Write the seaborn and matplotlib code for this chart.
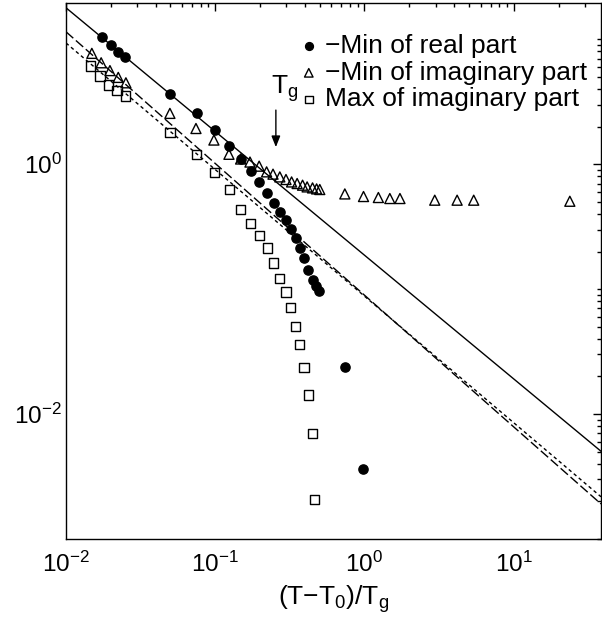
import numpy as np
import matplotlib
matplotlib.use("Agg")
import matplotlib.pyplot as plt
import matplotlib.ticker as mticker
import seaborn as sns

sns.set_theme(style="white")
plt.rcParams["font.family"] = ["Liberation Sans", "DejaVu Sans"]
plt.rcParams["mathtext.fontset"] = "custom"
plt.rcParams["mathtext.rm"] = "Liberation Sans"
plt.rcParams["mathtext.it"] = "Liberation Sans:italic"
plt.rcParams["mathtext.default"] = "regular"

# -Min of real part (filled circles)
real_x = [0.0175, 0.0200, 0.0224, 0.0248, 0.0497, 0.075, 0.0995, 0.124, 0.148,
          0.173, 0.197, 0.223, 0.247, 0.271, 0.298, 0.321, 0.347, 0.369, 0.394,
          0.420, 0.449, 0.472, 0.495, 0.739, 0.980]
real_y = [10.5, 8.98, 7.94, 7.16, 3.64, 2.55, 1.87, 1.40, 1.10,
          0.875, 0.721, 0.593, 0.493, 0.415, 0.356, 0.301, 0.257, 0.215, 0.178,
          0.143, 0.118, 0.105, 0.096, 0.0238, 0.0036]

# -Min of imaginary part (open triangles)
imin_x = [0.0149, 0.0172, 0.0197, 0.0224, 0.0252, 0.0497, 0.0743, 0.098, 0.1236,
          0.148, 0.171, 0.197, 0.221, 0.244, 0.271, 0.298, 0.325, 0.354, 0.385,
          0.413, 0.449, 0.478, 0.502, 0.739, 0.986, 1.24, 1.48, 1.73, 2.96,
          4.18, 5.40, 23.8]
imin_y = [7.71, 6.48, 5.61, 4.95, 4.48, 2.55, 1.93, 1.56, 1.20,
          1.10, 1.04, 0.964, 0.868, 0.832, 0.791, 0.754, 0.721, 0.700, 0.679,
          0.658, 0.646, 0.634, 0.627, 0.578, 0.551, 0.541, 0.531, 0.531, 0.515,
          0.515, 0.515, 0.505]

# Max of imaginary part (open squares)
imax_x = [0.01464, 0.0169, 0.0192, 0.0220, 0.0250, 0.0497, 0.075, 0.0988, 0.124,
          0.148, 0.173, 0.197, 0.223, 0.247, 0.271, 0.298, 0.320, 0.347, 0.369,
          0.393, 0.420, 0.447, 0.465]
imax_y = [6.10, 5.07, 4.30, 3.87, 3.51, 1.78, 1.20, 0.852, 0.627,
          0.434, 0.335, 0.270, 0.213, 0.162, 0.121, 0.0948, 0.0711, 0.0503, 0.0361,
          0.0235, 0.0142, 0.00703, 0.00206]

# power-law fits y = A * x**p
fit_solid = (0.187, -0.99)
fit_dashed = (0.0895, -1.054)
fit_dotted = (0.0879, -1.013)

x_range = [1e-2, 38.5]
y_range = [1e-3, 19.5]

fig = plt.figure(figsize=(6.02, 6.19), dpi=100)
ax = fig.add_axes([66 / 602, 1 - 539 / 619, 535 / 602, 536 / 619])

xf = np.array(x_range)
for (A, p), dash in [(fit_solid, None), (fit_dashed, (7, 2.5)), (fit_dotted, (2.5, 2.2))]:
    line, = ax.plot(xf, A * xf ** p, color="black", lw=1.0)
    if dash is not None:
        line.set_dashes(dash)

sns.scatterplot(x=real_x, y=real_y, marker="o", s=44, color="black",
                edgecolor="black", linewidth=1.0, ax=ax, label="\u2212Min of real part", zorder=3)
sns.scatterplot(x=imin_x, y=imin_y, marker="^", s=52, facecolors="none",
                edgecolor="black", linewidth=1.0, ax=ax, label="\u2212Min of imaginary part", zorder=3)
sns.scatterplot(x=imax_x, y=imax_y, marker="s", s=44, facecolors="none",
                edgecolor="black", linewidth=1.0, ax=ax, label="Max of imaginary part", zorder=3)

ax.set_xscale("log")
ax.set_yscale("log")
ax.set_xlim(x_range)
ax.set_ylim(y_range)

ax.xaxis.set_major_locator(mticker.FixedLocator([1e-2, 1e-1, 1e0, 1e1]))
ax.yaxis.set_major_locator(mticker.FixedLocator([1e-2, 1e0]))
for axis in (ax.xaxis, ax.yaxis):
    axis.set_major_formatter(mticker.LogFormatterSciNotation())
    axis.set_minor_locator(mticker.LogLocator(base=10, subs=np.arange(1, 10), numticks=30))
    axis.set_minor_formatter(mticker.NullFormatter())

ax.tick_params(which="both", direction="in", top=True, right=True, colors="black",
               width=1.0, labelsize=17.5)
ax.tick_params(which="major", length=5.5)
ax.tick_params(which="minor", length=3)
ax.tick_params(axis="x", which="major", pad=9)
ax.tick_params(axis="y", which="major", pad=3)
for sp in ax.spines.values():
    sp.set_color("black")
    sp.set_linewidth(1.0)

ax.set_xlabel("(T\u2212T$_0$)/T$_g$", fontsize=19, color="black", labelpad=5)

# T_g marker
ax.annotate("", xy=(0.255, 1.37), xytext=(0.255, 2.71),
            arrowprops=dict(arrowstyle="-|>,head_length=0.55,head_width=0.22",
                            color="black", lw=1.0, shrinkA=0, shrinkB=0))
ax.text(0.29, 4.0, "T$_g$", fontsize=19, ha="center", va="center", color="black")

leg = ax.legend(loc="upper left", bbox_to_anchor=(0.439, 0.942), frameon=False,
                fontsize=19, borderpad=0, borderaxespad=0, labelspacing=0.1,
                handlelength=0.6, handletextpad=0.31, markerscale=0.85)
for t in leg.get_texts():
    t.set_color("black")

fig.savefig("out.png", dpi=100)
